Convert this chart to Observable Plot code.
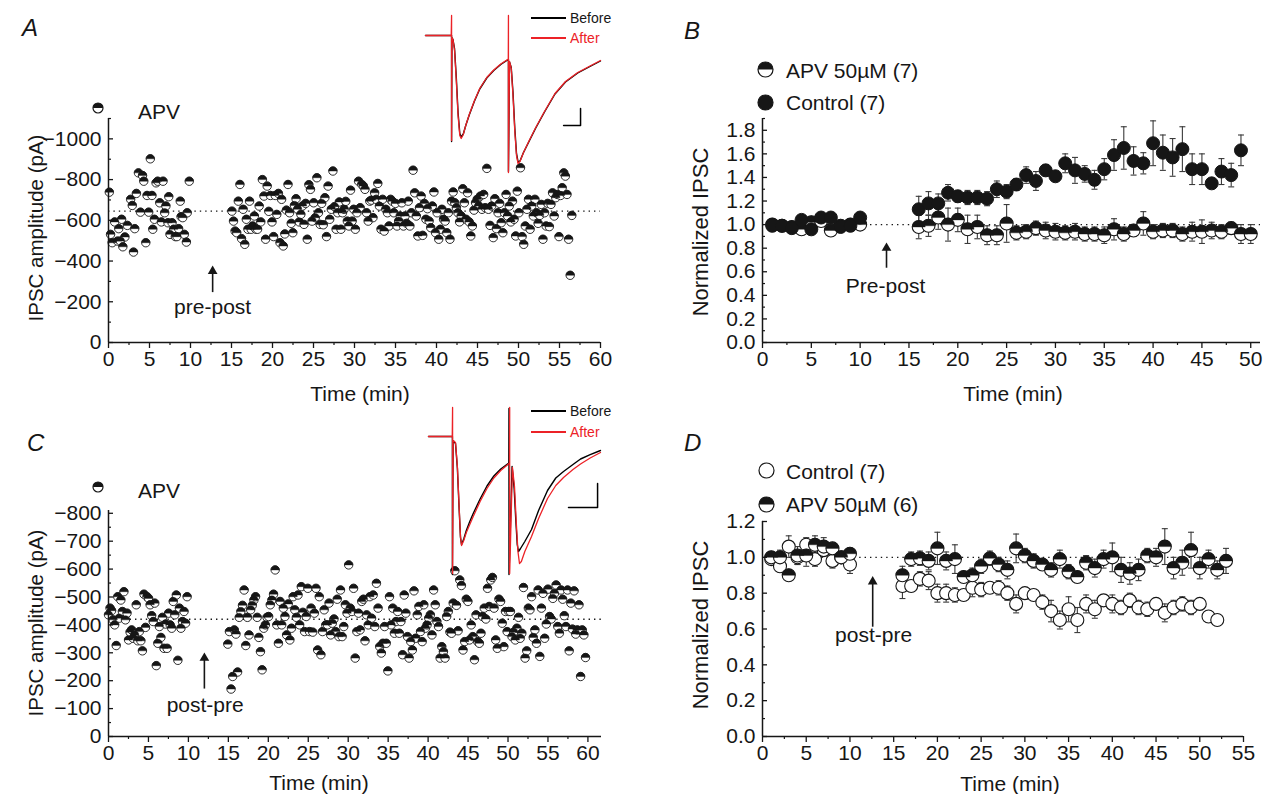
<!DOCTYPE html>
<html><head><meta charset="utf-8">
<script src="https://cdn.jsdelivr.net/npm/d3@7"></script>
<script src="https://cdn.jsdelivr.net/npm/@observablehq/plot@0.6"></script>
<style>
body{margin:0;background:#fff;font-family:"Liberation Sans",Arial,sans-serif;}
#fig{position:relative;width:1263px;height:794px;overflow:hidden;background:#fff;}
.abs{position:absolute;white-space:nowrap;line-height:1;}
</style></head><body><div id="fig"></div>
<script>
// ---------------- DATA ----------------
// Panel A: single cell, pre-post pairing in APV (IPSC amplitude, pA)
const aBaseTimes = [0.1,0.25,0.45,0.75,1.1,1.25,1.45,1.6,1.75,2.0,2.3,2.7,2.9,3.05,3.2,3.4,3.65,3.9,4.15,4.3,4.55,4.7,4.9,5.1,5.3,5.4,5.6,5.8,6.0,6.25,6.45,6.65,6.85,7.0,7.25,7.35,7.5,7.75,7.95,8.15,8.35,8.55,8.75,8.85,9.05,9.25,9.5,9.6,9.85];
const aBaseVals = [-738,-531,-490,-592,-498,-559,-498,-605,-470,-518,-575,-703,-673,-444,-559,-732,-833,-640,-820,-792,-490,-722,-640,-902,-722,-556,-605,-784,-792,-686,-592,-792,-637,-670,-588,-716,-531,-588,-556,-520,-520,-559,-694,-618,-613,-531,-493,-637,-792];
const aPostFirst = 15.05, aPostLast = 56.5;   // sweeps recorded at a constant interval
const aPostVals = [-645,-596,-547,-539,-694,-776,-510,-654,-482,-605,-556,-694,-556,-572,-621,-556,-556,-670,-592,-800,-719,-507,-768,-644,-722,-592,-520,-722,-629,-732,-490,-703,-474,-533,-650,-776,-637,-585,-539,-673,-706,-654,-592,-629,-670,-580,-683,-507,-775,-752,-596,-686,-613,-809,-637,-580,-683,-578,-711,-520,-768,-605,-654,-842,-667,-556,-637,-690,-556,-637,-654,-693,-596,-572,-748,-596,-654,-556,-637,-792,-662,-776,-768,-752,-637,-596,-694,-699,-613,-735,-703,-781,-670,-556,-703,-547,-654,-637,-572,-703,-694,-637,-683,-572,-596,-621,-686,-572,-621,-585,-694,-572,-637,-846,-735,-621,-523,-662,-719,-526,-683,-605,-657,-596,-564,-670,-739,-539,-637,-507,-556,-654,-605,-596,-539,-637,-507,-694,-739,-686,-662,-637,-592,-621,-755,-686,-605,-735,-592,-523,-572,-650,-686,-703,-670,-719,-654,-727,-662,-855,-654,-575,-670,-515,-706,-559,-637,-683,-588,-539,-637,-727,-621,-670,-592,-694,-605,-523,-743,-637,-858,-520,-482,-572,-654,-703,-556,-670,-621,-703,-637,-585,-624,-678,-507,-637,-572,-683,-569,-678,-735,-621,-711,-727,-520,-722,-760,-833,-817,-727,-507,-330,-624];
const aRef = -645;

// Panel C: single cell, post-pre pairing in APV
const cBaseFirst = 0, cBaseLast = 9.84;
const cBaseVals = [-436,-460,-451,-418,-400,-326,-501,-424,-489,-448,-519,-418,-442,-346,-374,-382,-352,-364,-472,-343,-376,-343,-307,-510,-391,-501,-495,-472,-433,-412,-478,-254,-334,-394,-355,-427,-316,-403,-316,-442,-400,-388,-484,-436,-507,-273,-460,-388,-412,-448,-406,-501];
const cPostFirst = 14.93, cPostLast = 59.7;
const cPostVals = [-331,-376,-170,-215,-382,-367,-231,-427,-448,-470,-525,-326,-427,-364,-454,-470,-489,-501,-427,-355,-304,-239,-388,-400,-427,-430,-472,-489,-510,-597,-400,-334,-484,-400,-460,-430,-364,-475,-346,-388,-501,-454,-427,-507,-400,-537,-445,-376,-430,-531,-376,-460,-374,-442,-531,-310,-501,-293,-376,-454,-400,-400,-478,-364,-406,-421,-376,-492,-358,-525,-358,-394,-472,-442,-615,-460,-448,-531,-281,-376,-442,-382,-484,-492,-343,-436,-400,-501,-424,-507,-394,-549,-460,-322,-299,-334,-394,-334,-235,-501,-400,-460,-370,-412,-448,-370,-412,-293,-507,-442,-358,-281,-340,-310,-522,-352,-436,-466,-376,-340,-472,-388,-400,-424,-436,-364,-525,-472,-412,-394,-281,-322,-304,-281,-430,-448,-374,-370,-478,-594,-470,-379,-561,-541,-310,-340,-492,-484,-346,-400,-358,-275,-436,-340,-334,-370,-430,-460,-421,-531,-466,-561,-570,-460,-346,-316,-492,-484,-406,-322,-448,-376,-448,-448,-358,-374,-346,-388,-427,-352,-370,-534,-281,-307,-460,-454,-501,-355,-382,-334,-525,-287,-460,-513,-352,-403,-528,-430,-421,-495,-513,-543,-394,-370,-525,-492,-433,-394,-525,-307,-478,-385,-522,-367,-382,-472,-215,-382,-364,-283];
const cRef = -420;

// Panel B: normalized IPSC, pre-post (mean ± SEM)
const bCtrlTime = [1,2,3,4,5,6,7,8,9,10,16,17,18,19,20,21,22,23,24,25,26,27,28,29,30,31,32,33,34,35,36,37,38,39,40,41,42,43,44,45,46,47,48,49];
const bCtrlMean = [0.99,0.99,0.97,1.04,0.96,1.06,1.06,0.98,0.99,1.06,1.13,1.18,1.18,1.27,1.24,1.23,1.23,1.22,1.30,1.28,1.34,1.42,1.37,1.46,1.41,1.52,1.46,1.43,1.38,1.47,1.59,1.65,1.54,1.52,1.69,1.61,1.57,1.64,1.47,1.47,1.35,1.45,1.42,1.63];
const bCtrlSem  = [0.02,0.02,0.02,0.03,0.02,0.03,0.03,0.02,0.02,0.03,0.11,0.10,0.08,0.07,0.05,0.06,0.06,0.06,0.07,0.06,0.05,0.07,0.08,0.05,0.04,0.08,0.11,0.07,0.08,0.09,0.13,0.18,0.12,0.09,0.19,0.15,0.16,0.19,0.13,0.13,0.02,0.11,0.10,0.13];
const bApvTime = [1,2,3,4,5,6,7,8,9,10,16,17,18,19,20,21,22,23,24,25,26,27,28,29,30,31,32,33,34,35,36,37,38,39,40,41,42,43,44,45,46,47,48,49,50];
const bApvMean = [1.0,0.99,0.98,0.96,1.02,1.03,0.95,0.99,1.0,1.0,0.98,0.99,1.06,1.0,1.04,0.96,0.98,0.91,0.91,1.01,0.93,0.94,0.97,0.95,0.94,0.93,0.94,0.92,0.92,0.91,0.96,0.92,0.95,1.01,0.94,0.95,0.95,0.92,0.94,0.94,0.95,0.94,0.97,0.92,0.92];
const bApvSem  = [0.02,0.02,0.02,0.02,0.02,0.02,0.02,0.02,0.02,0.02,0.10,0.09,0.10,0.14,0.10,0.12,0.10,0.08,0.08,0.16,0.06,0.06,0.06,0.07,0.07,0.06,0.07,0.06,0.06,0.07,0.09,0.06,0.05,0.10,0.06,0.06,0.06,0.06,0.08,0.10,0.07,0.06,0.05,0.08,0.08];

// Panel D: normalized IPSC, post-pre (mean ± SEM)
const dCtrlTime = [1,2,3,4,5,6,7,8,9,10,16,17,18,19,20,21,22,23,24,25,26,27,28,29,30,31,32,33,34,35,36,37,38,39,40,41,42,43,44,45,46,47,48,49,50,51,52];
const dCtrlMean = [0.99,0.95,1.06,1.0,1.07,0.99,1.04,0.98,1.0,0.96,0.84,0.84,0.88,0.87,0.80,0.80,0.79,0.79,0.83,0.82,0.83,0.83,0.80,0.74,0.80,0.79,0.75,0.70,0.65,0.71,0.65,0.74,0.71,0.76,0.74,0.72,0.76,0.72,0.71,0.74,0.69,0.72,0.74,0.72,0.74,0.67,0.65];
const dCtrlSem  = [0.03,0.03,0.06,0.04,0.04,0.04,0.03,0.04,0.03,0.05,0.07,0.03,0.04,0.05,0.05,0.05,0.04,0.03,0.05,0.04,0.03,0.04,0.04,0.05,0.03,0.03,0.04,0.06,0.05,0.07,0.07,0.05,0.05,0.03,0.05,0.04,0.04,0.04,0.04,0.03,0.05,0.04,0.04,0.04,0.03,0.03,0.03];
const dApvTime = [1,2,3,4,5,6,7,8,9,10,16,17,18,19,20,21,22,23,24,25,26,27,28,29,30,31,32,33,34,35,36,37,38,39,40,41,42,43,44,45,46,47,48,49,50,51,52,53];
const dApvMean = [1.0,1.0,0.9,1.01,1.01,1.07,1.06,1.05,1.0,1.02,0.90,0.99,0.995,0.98,1.05,0.98,0.99,0.89,0.90,0.95,0.995,0.96,0.93,1.05,1.01,0.98,0.96,0.93,0.99,0.92,0.89,0.97,0.94,0.99,1.0,0.93,0.91,0.93,1.01,1.0,1.06,0.94,0.97,1.04,0.94,0.99,0.93,0.98];
const dApvSem  = [0.02,0.04,0.02,0.05,0.06,0.05,0.05,0.03,0.03,0.03,0.05,0.04,0.04,0.05,0.09,0.05,0.08,0.03,0.04,0.04,0.04,0.04,0.05,0.08,0.04,0.04,0.03,0.04,0.05,0.04,0.03,0.04,0.05,0.05,0.08,0.07,0.06,0.06,0.04,0.05,0.10,0.06,0.07,0.10,0.06,0.05,0.05,0.07];

// Insets: example paired-pulse traces (time ms, current pA)
const aAfterT = [0,14.7,14.9,14.9,15.1,15.7,16.6,17.6,18.6,19.6,20.4,21.6,23,25,28,31,35,39,43,46.9,47.3,47.4,47.4,48.0,49.0,50,51,52,52.9,54,56,59,63,68,74,80,87,94,100];
const aAfterV = [0,0,200,-1050,-20,-40,-150,-450,-800,-1000,-1030,-990,-900,-790,-650,-530,-420,-345,-285,-240,-235,200,-1370,-260,-330,-600,-950,-1200,-1280,-1260,-1170,-1060,-920,-760,-580,-460,-370,-305,-250];
const aBeforeV = [0,0,0,-1060,-20,-40,-130,-420,-770,-980,-1015,-985,-900,-795,-655,-535,-425,-350,-290,-245,-240,-240,-1360,-265,-320,-570,-920,-1180,-1265,-1255,-1170,-1065,-925,-765,-585,-465,-375,-310,-255];
const aScaleT = [78.9,88.6,88.6], aScaleV = [-900,-900,-730];
const cAfterT = [0,13.8,14.0,14.0,14.3,15.7,16.8,17.8,18.6,19.2,20.5,22,24,26,30,34,38,42,46.5,47.1,47.2,47.2,48.8,50,51,52,52.9,54,56,59.9,64,69.2,74,78.5,84,88.4,94,100];
const cAfterV = [0,0,290,-1370,-40,-60,-300,-700,-1000,-1090,-1040,-960,-880,-800,-650,-520,-415,-340,-275,-265,290,-1370,-310,-500,-850,-1150,-1270,-1250,-1150,-1000,-820,-620,-490,-410,-330,-275,-215,-160];
const cBeforeT = [0,13.8,13.9,13.9,14.3,15.7,16.8,17.8,18.6,19.2,20.5,22,24,26,30,34,38,42,46.5,46.7,46.8,46.8,48.6,49.8,50.8,51.6,52.3,53.5,56,59.9,64,69.2,74,78.5,84,88.4,94,100];
const cBeforeV = [0,0,0,-1380,-40,-70,-320,-720,-1010,-1080,-1025,-940,-850,-770,-625,-495,-395,-325,-268,-262,280,-1380,-300,-520,-850,-1080,-1150,-1120,-1050,-930,-740,-540,-415,-350,-280,-225,-182,-140];
const cScaleT = [81.4,98.3,98.3], cScaleV = [-710,-710,-470];

// Axis ticks
const tickA_x = [0,5,10,15,20,25,30,35,40,45,50,55,60];
const tickA_y = [0,-200,-400,-600,-800,-1000];
const tickC_y = [0,-100,-200,-300,-400,-500,-600,-700,-800];
const tickB_x = [0,5,10,15,20,25,30,35,40,45,50];
const tickB_y = [0,0.2,0.4,0.6,0.8,1.0,1.2,1.4,1.6,1.8];
const tickD_x = [0,5,10,15,20,25,30,35,40,45,50,55];
const tickD_y = [0,0.2,0.4,0.6,0.8,1.0,1.2];

// ---------------- HELPERS ----------------
const INK = "#161616", RED = "#ec2227";
const FS = 21;
const fig = document.getElementById("fig");
const halfTop = {draw(ctx, size){const r=Math.sqrt(size/Math.PI); ctx.moveTo(r,0); ctx.arc(0,0,r,0,Math.PI,true); ctx.closePath();}};
const capSym = {draw(ctx, size){const w=Math.sqrt(size/Math.PI); ctx.moveTo(-w,0); ctx.lineTo(w,0);}};
const between = (a, b, step) => { const o=[]; for (let v=a; v<=b+1e-9; v+=step) o.push(+v.toFixed(3)); return o; };
const minusFmt = d => d === 0 ? "0" : "\u2212" + Math.abs(d);
const fmt1 = d3.format(".1f");
const zip = (ts, vs, es) => ts.map((t,i) => ({t, v: vs[i], e: es ? es[i] : 0}));
const series = (first, last, vs) => vs.map((v,i) => ({t: first + i*(last-first)/(vs.length-1), v}));

function put(node, left, top){
  node.style.position="absolute"; node.style.left=left+"px"; node.style.top=top+"px";
  node.querySelectorAll('g[aria-label$="tick label"] text').forEach(t => { t.style.fontSize = FS+"px"; });
  fig.appendChild(node);
}
function label(text, x, y, o={}) {
  const d=document.createElement("div"); d.className="abs"; d.textContent=text;
  d.style.fontSize=(o.size||FS)+"px"; d.style.color=o.color||INK;
  if (o.italic) d.style.fontStyle="italic";
  d.style.left=x+"px"; d.style.top=y+"px";
  const ax = o.anchor==="middle"?"-50%":o.anchor==="end"?"-100%":"0";
  d.style.transform=`translate(${ax},-50%)`+(o.rotate?` rotate(${o.rotate}deg)`:"");
  fig.appendChild(d);
}
function symbol(kind, cx, cy, r){
  const ns="http://www.w3.org/2000/svg", s=document.createElementNS(ns,"svg");
  const W=2*r+4; s.setAttribute("width",W); s.setAttribute("height",W);
  const c=document.createElementNS(ns,"circle"); c.setAttribute("cx",W/2); c.setAttribute("cy",W/2); c.setAttribute("r",r);
  c.setAttribute("fill", kind==="filled"?INK:"white"); c.setAttribute("stroke",INK); c.setAttribute("stroke-width",1.2); s.appendChild(c);
  if (kind==="half"){ const p=document.createElementNS(ns,"path"); p.setAttribute("d",`M${W/2-r},${W/2} A${r},${r} 0 0 1 ${W/2+r},${W/2} Z`); p.setAttribute("fill",INK); s.appendChild(p); }
  s.style.position="absolute"; s.style.left=(cx-W/2)+"px"; s.style.top=(cy-W/2)+"px"; fig.appendChild(s);
}
function legendLine(color, x1, x2, y){
  const d=document.createElement("div"); d.style.position="absolute"; d.style.left=x1+"px"; d.style.top=(y-0.6)+"px";
  d.style.width=(x2-x1)+"px"; d.style.height="1.3px"; d.style.background=color; fig.appendChild(d);
}
const plotStyle = {background:"transparent", fontFamily:"'Liberation Sans', Arial, sans-serif", fontSize:FS+"px", color:INK, overflow:"visible"};

function axes({xTicks, xMinor, yTicks, yMinor, yFmt}) {
  return [
    Plot.axisX({ticks:xTicks, tickSize:6, tickPadding:3, tickFormat:d=>String(d), label:null, strokeWidth:1.3, fontSize:FS}),
    Plot.axisX({ticks:xMinor, tickSize:3, tickFormat:()=> "", label:null, strokeWidth:1.2}),
    Plot.axisY({ticks:yTicks, tickSize:0, tickPadding:7, tickFormat:yFmt, label:null, fontSize:FS}),
    Plot.axisY({ticks:yTicks, tickSize:5, dx:5, tickFormat:()=> "", label:null, strokeWidth:1.3}),
    Plot.axisY({ticks:yMinor, tickSize:3, dx:3, tickFormat:()=> "", label:null, strokeWidth:1.2}),
    Plot.ruleX([0], {stroke:INK, strokeWidth:1.5}),
    Plot.ruleY([0], {stroke:INK, strokeWidth:1.5})
  ];
}
function arrowMarks(a){
  return [
    Plot.ruleX([a], {x:"x", y1:"y1", y2:"y2", stroke:INK, strokeWidth:1.6}),
    Plot.dot([a], {x:"x", y:"y2", symbol:"triangle", r:3.6, fill:INK, stroke:"none", dy:1}),
    Plot.text([a], {x:"tx", y:"ty", text:"label", fontSize:FS, fill:INK})
  ];
}
function halfDots(data, r, sw){
  return [
    Plot.dot(data, {x:"t", y:"v", r, fill:"white", stroke:INK, strokeWidth:sw}),
    Plot.dot(data, {x:"t", y:"v", r, symbol:halfTop, fill:INK, stroke:INK, strokeWidth:0.4})
  ];
}
function errBars(data){
  return [
    Plot.ruleX(data, {x:"t", y1:d=>d.v-d.e, y2:d=>d.v+d.e, stroke:"#3a3a3a", strokeWidth:1.1}),
    Plot.dot(data, {x:"t", y:d=>d.v+d.e, r:3, symbol:capSym, stroke:"#3a3a3a", strokeWidth:1.1}),
    Plot.dot(data, {x:"t", y:d=>d.v-d.e, r:3, symbol:capSym, stroke:"#3a3a3a", strokeWidth:1.1})
  ];
}

// ---------------- PANEL A ----------------
const aData = zip(aBaseTimes, aBaseVals).concat(series(aPostFirst, aPostLast, aPostVals));
put(Plot.plot({
  width:630, height:320, marginLeft:108, marginRight:30, marginTop:38, marginBottom:58,
  x:{domain:[0,60], label:null}, y:{domain:[0,-1100], label:null}, style:plotStyle,
  marks:[
    Plot.ruleY([aRef], {x1:0, x2:60, stroke:INK, strokeWidth:1.4, strokeDasharray:"1.4,4"}),
    ...halfDots(aData, 4.2, 0.9),
    ...arrowMarks({x:12.7, y1:-245, y2:-355, tx:12.7, ty:-175, label:"pre-post"}),
    ...axes({xTicks:tickA_x, xMinor:between(2.5,57.5,5), yTicks:tickA_y, yMinor:[-100,-300,-500,-700,-900,-1100], yFmt:minusFmt})
  ]
}), 0, 80);

// ---------------- PANEL C ----------------
const cData = series(cBaseFirst, cBaseLast, cBaseVals).concat(series(cPostFirst, cPostLast, cPostVals));
put(Plot.plot({
  width:630, height:316, marginLeft:108, marginRight:29, marginTop:30, marginBottom:60,
  x:{domain:[0,61.7], label:null}, y:{domain:[0,-810], label:null}, style:plotStyle,
  marks:[
    Plot.ruleY([cRef], {x1:0, x2:61.7, stroke:INK, strokeWidth:1.4, strokeDasharray:"1.4,4"}),
    ...halfDots(cData, 4.2, 0.9),
    ...arrowMarks({x:12.0, y1:-170, y2:-285, tx:12.1, ty:-112, label:"post-pre"}),
    ...axes({xTicks:tickA_x, xMinor:between(2.5,57.5,5), yTicks:tickC_y, yMinor:between(-750,-50,100), yFmt:minusFmt})
  ]
}), 0, 480);

// ---------------- PANEL B ----------------
const bCtrl = zip(bCtrlTime, bCtrlMean, bCtrlSem), bApv = zip(bApvTime, bApvMean, bApvSem);
put(Plot.plot({
  width:630, height:320, marginLeft:122, marginRight:10, marginTop:38, marginBottom:58,
  x:{domain:[0,51], label:null}, y:{domain:[0,1.9], label:null}, style:plotStyle,
  marks:[
    Plot.ruleY([1], {x1:0, x2:51, stroke:INK, strokeWidth:1.4, strokeDasharray:"1.4,4"}),
    ...errBars(bApv), ...errBars(bCtrl),
    ...halfDots(bApv, 6.5, 1.1),
    Plot.dot(bCtrl, {x:"t", y:"v", r:6.5, fill:INK, stroke:INK, strokeWidth:1}),
    ...arrowMarks({x:12.7, y1:0.63, y2:0.81, tx:12.6, ty:0.48, label:"Pre-post"}),
    ...axes({xTicks:tickB_x, xMinor:between(2.5,47.5,5), yTicks:tickB_y, yMinor:between(0.1,1.9,0.2), yFmt:fmt1})
  ]
}), 640, 80);

// ---------------- PANEL D ----------------
const dCtrl = zip(dCtrlTime, dCtrlMean, dCtrlSem), dApv = zip(dApvTime, dApvMean, dApvSem);
put(Plot.plot({
  width:630, height:316, marginLeft:122, marginRight:27, marginTop:41, marginBottom:60,
  x:{domain:[0,55], label:null}, y:{domain:[0,1.2], label:null}, style:plotStyle,
  marks:[
    Plot.ruleY([1], {x1:0, x2:53.5, stroke:INK, strokeWidth:1.4, strokeDasharray:"1.4,4"}),
    ...errBars(dCtrl), ...errBars(dApv),
    Plot.dot(dCtrl, {x:"t", y:"v", r:6.5, fill:"white", stroke:INK, strokeWidth:1.1}),
    ...halfDots(dApv, 6.5, 1.1),
    ...arrowMarks({x:12.6, y1:0.61, y2:0.87, tx:12.7, ty:0.565, label:"post-pre"}),
    ...axes({xTicks:tickD_x, xMinor:between(2.5,52.5,5), yTicks:tickD_y, yMinor:between(0.1,1.1,0.2), yFmt:fmt1})
  ]
}), 640, 480);

// ---------------- INSETS ----------------
function inset(beforeT, beforeV, afterT, afterV, scaleT, scaleV, w, h, yDom){
  return Plot.plot({
    width:w, height:h, margin:0, x:{domain:[0,100], axis:null}, y:{domain:yDom, axis:null}, style:plotStyle,
    marks:[
      Plot.line(zip(beforeT, beforeV), {x:"t", y:"v", stroke:"#000", strokeWidth:1.4}),
      Plot.line(zip(afterT, afterV), {x:"t", y:"v", stroke:RED, strokeWidth:1.3}),
      Plot.line(zip(scaleT, scaleV), {x:"t", y:"v", stroke:"#000", strokeWidth:1.5})
    ]
  });
}
put(inset(aAfterT, aBeforeV, aAfterT, aAfterV, aScaleT, aScaleV, 175, 165, [-1400,250]), 425, 10);
put(inset(cBeforeT, cBeforeV, cAfterT, cAfterV, cScaleT, cScaleV, 172, 180, [-1440,360]), 428, 400);

// ---------------- TEXT / LEGENDS ----------------
label("A", 22, 28, {size:24, italic:true});
label("B", 684, 31, {size:24, italic:true});
label("C", 27, 443, {size:24, italic:true});
label("D", 684, 443, {size:24, italic:true});

label("IPSC amplitude (pA)", 36, 228, {anchor:"middle", rotate:-90, size:20.5});
label("IPSC amplitude (pA)", 36, 623, {anchor:"middle", rotate:-90, size:20.5});
label("Normalized IPSC", 701, 232, {anchor:"middle", rotate:-90, size:22});
label("Normalized IPSC", 701, 625, {anchor:"middle", rotate:-90, size:22});
label("Time (min)", 360, 393, {anchor:"middle"});
label("Time (min)", 319, 782, {anchor:"middle"});
label("Time (min)", 1013, 393, {anchor:"middle"});
label("Time (min)", 1010, 783, {anchor:"middle"});

symbol("half", 98, 108, 5); label("APV", 138, 111);
symbol("half", 98, 487, 5); label("APV", 138, 490);

symbol("half", 765, 69, 7.5); label("APV 50\u00b5M (7)", 786, 70);
symbol("filled", 765, 102, 7.5); label("Control (7)", 786, 102);
symbol("open", 766, 470, 7.5); label("Control (7)", 786, 471);
symbol("half", 766, 504, 7.5); label("APV 50\u00b5M (6)", 786, 504);

legendLine("#000", 531, 566, 18); label("Before", 570, 18, {size:14});
legendLine(RED, 531, 566, 38); label("After", 570, 38, {size:14, color:RED});
legendLine("#000", 531, 566, 411); label("Before", 570, 411, {size:14});
legendLine(RED, 531, 566, 432); label("After", 570, 432, {size:14, color:RED});
</script></body></html>
